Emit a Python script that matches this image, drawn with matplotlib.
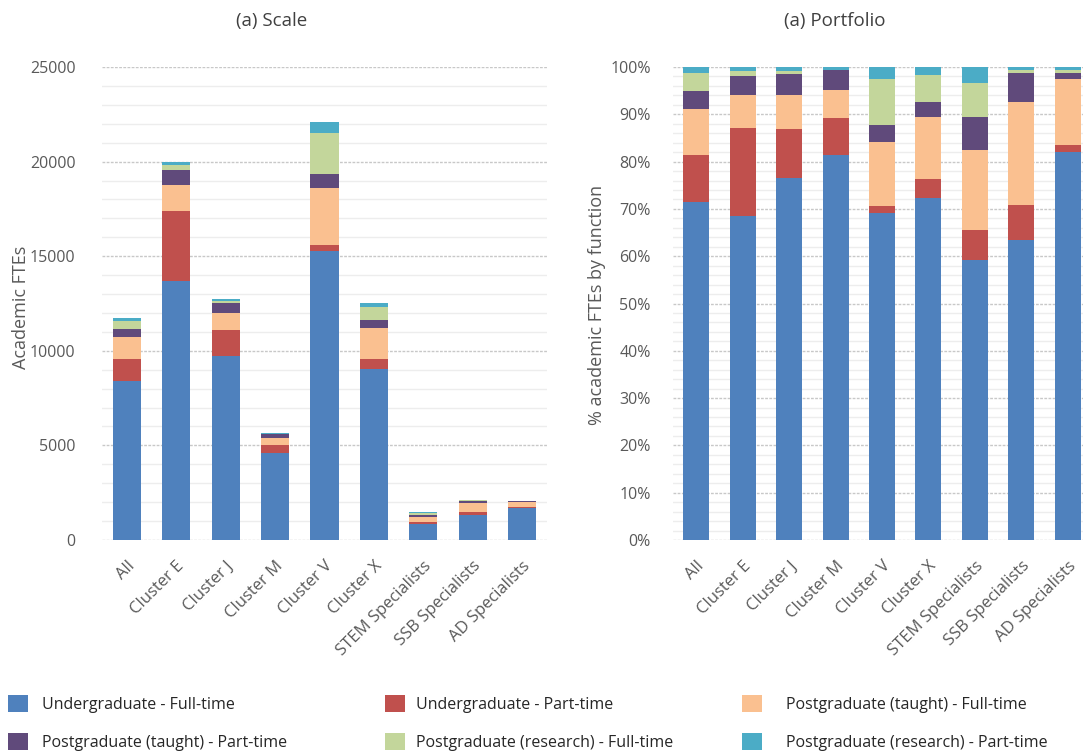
import numpy as np
import matplotlib
matplotlib.use("Agg")
import matplotlib.pyplot as plt
from matplotlib.patches import Patch
from matplotlib.ticker import MultipleLocator, FuncFormatter

plt.rcParams['font.family'] = ['Open Sans', 'DejaVu Sans']

categories = ["All", "Cluster E", "Cluster J", "Cluster M", "Cluster V",
              "Cluster X", "STEM Specialists", "SSB Specialists", "AD Specialists"]

# Academic FTEs by function
ug_ft = [8380, 13690, 9740, 4600, 15260, 9055, 864, 1332, 1708]
ug_pt = [1175, 3710, 1340, 440, 350, 525, 91, 157, 27]
pgt_ft = [1150, 1360, 900, 335, 2980, 1640, 249, 454, 291]
pgt_pt = [435, 800, 570, 237, 775, 400, 102, 130, 27]
pgr_ft = [445, 240, 90, 8, 2140, 690, 105, 15, 15]
pgr_pt = [153, 160, 100, 33, 575, 225, 48, 12, 12]

series_labels = ["Undergraduate - Full-time", "Undergraduate - Part-time",
                 "Postgraduate (taught) - Full-time", "Postgraduate (taught) - Part-time",
                 "Postgraduate (research) - Full-time", "Postgraduate (research) - Part-time"]
colors = ["#4F81BD", "#C0504D", "#FAC090", "#604A7B", "#C3D69B", "#4BACC6"]

series = np.array([ug_ft, ug_pt, pgt_ft, pgt_pt, pgr_ft, pgr_pt], dtype=float)
shares = series / series.sum(axis=0) * 100

W, H = 1083, 755
fig = plt.figure(figsize=(W / 100, H / 100), dpi=100)

def px_axes(x0, y0, x1, y1):
    return fig.add_axes([x0 / W, 1 - y1 / H, (x1 - x0) / W, (y1 - y0) / H])

ax1 = px_axes(102, 67, 547, 540)
ax2 = px_axes(673, 67, 1091, 540)

tick_color = "#595959"
x = np.arange(len(categories))

def style(ax, major, minor, top, ypad):
    ax.set_xlim(-0.5, len(categories) - 0.5)
    ax.set_ylim(0, top)
    ax.yaxis.set_major_locator(MultipleLocator(major))
    ax.yaxis.set_minor_locator(MultipleLocator(minor))
    ax.grid(which='minor', axis='y', color='#EDEDED', linewidth=1.0, linestyle='-')
    ax.grid(which='major', axis='y', color='#C8C8C8', linewidth=1.0, linestyle=(0, (2, 1)))
    ax.set_axisbelow(True)
    for s in ax.spines.values():
        s.set_visible(False)
    ax.tick_params(which='both', length=0)
    ax.tick_params(axis='y', pad=ypad, labelsize=11.5, labelcolor=tick_color)
    ax.tick_params(axis='x', pad=13, labelsize=12, labelcolor=tick_color)
    ax.set_xticks(x)
    ax.set_xticklabels(categories, rotation=45, ha='right', rotation_mode='anchor')

def stack(ax, data, width):
    bottom = np.zeros(len(categories))
    for vals, c in zip(data, colors):
        ax.bar(x, vals, width, bottom=bottom, color=c, linewidth=0, zorder=2)
        bottom += vals

stack(ax1, series, 0.57)
style(ax1, 5000, 1000, 25000, 19)
ax1.set_ylabel("Academic FTEs", fontsize=13, color=tick_color)
ax1.yaxis.set_label_coords(21 / W, 0.5, transform=fig.transFigure)

stack(ax2, shares, 0.56)
style(ax2, 10, 2, 100, 16)
ax2.yaxis.set_major_formatter(FuncFormatter(lambda v, p: f"{v:.0f}%"))
ax2.set_ylabel("% academic FTEs by function", fontsize=13, color=tick_color)
ax2.yaxis.set_label_coords(597 / W, 0.5, transform=fig.transFigure)
ax1.yaxis.label.set_va('center')
ax2.yaxis.label.set_va('center')
ax1.yaxis.label.set_position((21 / W, 1 - 307 / H))
ax2.yaxis.label.set_position((597 / W, 1 - 305 / H))

fig.text(272 / W, 1 - 21 / H, "(a) Scale", ha='center', va='center', fontsize=13.5, color='#404040')
fig.text(835 / W, 1 - 21 / H, "(a) Portfolio", ha='center', va='center', fontsize=13.5, color='#404040')

handles = [Patch(facecolor=c, edgecolor='none') for c in colors]
# (patch left edge px, gap between patch and text in em)
legend_cols = [(8, 0.85), (385, 0.7), (742, 1.5)]
for i, (cx, gap) in enumerate(legend_cols):
    idx = [i, i + 3]
    fig.legend([handles[j] for j in idx], [series_labels[j] for j in idx],
               loc='upper left', bbox_to_anchor=(cx / W, 1 - 695 / H),
               frameon=False, fontsize=11.5, handlelength=1.25, handleheight=1.25,
               handletextpad=gap, labelspacing=1.25, borderaxespad=0, borderpad=0,
               labelcolor='#262626')

fig.savefig("out.png", dpi=100)
